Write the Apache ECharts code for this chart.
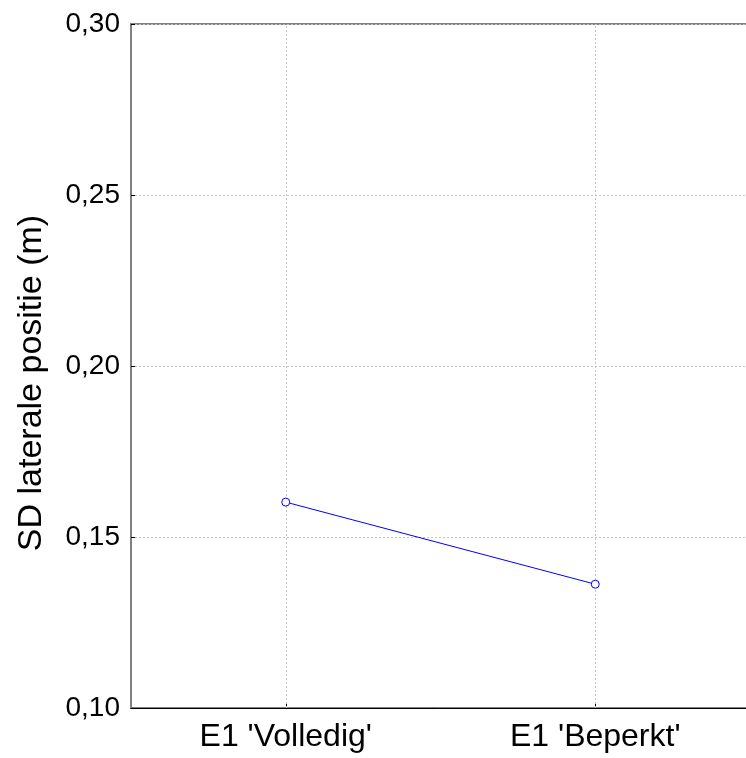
<!DOCTYPE html>
<html>
<head>
<meta charset="utf-8">
<title>SD laterale positie</title>
<script src="https://cdn.jsdelivr.net/npm/echarts@6/dist/echarts.min.js"></script>
<style>
  html, body { margin: 0; padding: 0; background: #ffffff; }
  #chart { width: 746px; height: 758px; }
</style>
</head>
<body>
<div id="chart"></div>
<script>
// Conditions on the x axis
var categories = ["E1 'Volledig'", "E1 'Beperkt'"];
// Mean SD of lateral position per condition (m)
var sdValues = [0.1602, 0.1362];
// Y axis range and step
var yMin = 0.10;
var yMax = 0.30;
var yStep = 0.05;

var FONT = 'Liberation Sans, Arial, sans-serif';

var chart = echarts.init(document.getElementById('chart'), null, { renderer: 'canvas' });

chart.setOption({
  backgroundColor: '#ffffff',
  animation: false,
  grid: {
    left: 131,
    right: -4,
    top: 24,
    bottom: 50,
    outerBoundsMode: 'none',
    containLabel: false,
    show: true,
    borderColor: '#808080',
    borderWidth: 2,
    backgroundColor: 'transparent'
  },
  xAxis: {
    type: 'category',
    data: categories,
    boundaryGap: true,
    axisLine: { show: true, lineStyle: { color: '#000000', width: 1 } },
    axisTick: { show: true, inside: true, alignWithLabel: true, length: 4, lineStyle: { color: '#000000' } },
    axisLabel: { color: '#000000', fontFamily: FONT, fontSize: 32, margin: 13 },
    splitLine: { show: false }
  },
  yAxis: {
    type: 'value',
    min: yMin,
    max: yMax,
    interval: yStep,
    name: 'SD laterale positie (m)',
    nameLocation: 'middle',
    nameGap: 82,
    nameRotate: 90,
    nameTextStyle: { color: '#000000', fontFamily: FONT, fontSize: 34, padding: [0, 34, 0, 0] },
    axisLine: { show: true, lineStyle: { color: '#808080', width: 2 } },
    axisTick: { show: true, inside: true, length: 4, lineStyle: { color: '#000000' } },
    axisLabel: {
      color: '#000000',
      fontFamily: FONT,
      fontSize: 28,
      margin: 11,
      formatter: function (v) { return v.toFixed(2).replace('.', ','); }
    },
    splitLine: { show: true, lineStyle: { color: '#c4c4c4', type: [2, 2], width: 1 } }
  },
  series: [{
    type: 'line',
    data: sdValues,
    lineStyle: { color: '#0000ff', width: 1 },
    symbol: 'circle',
    symbolSize: 8,
    itemStyle: { color: '#ffffff', borderColor: '#0000ff', borderWidth: 1 },
    z: 3,
    markLine: {
      silent: true,
      symbol: 'none',
      label: { show: false },
      lineStyle: { color: '#c4c4c4', type: [2, 2], width: 1 },
      data: categories.map(function (c) { return { xAxis: c }; }),
      z: 1
    }
  }]
});
</script>
</body>
</html>
